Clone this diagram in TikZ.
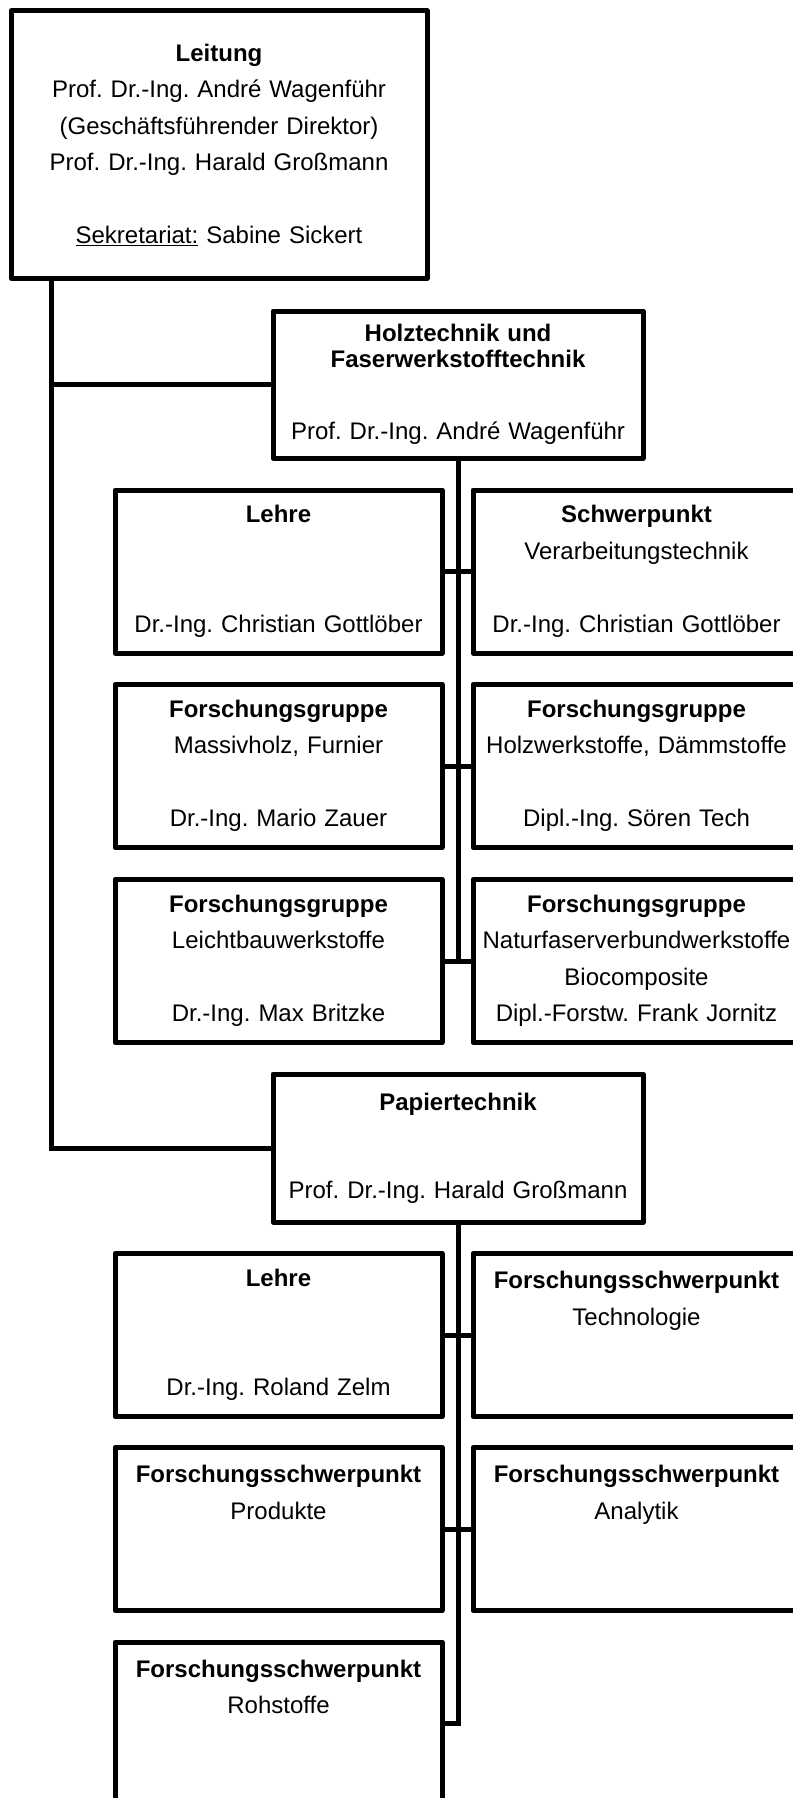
\documentclass[tikz,border=0pt]{standalone}
\usepackage{fontspec}
\setmainfont{Liberation Sans}
\usepackage{tikz}
\frenchspacing

\begin{document}
\begin{tikzpicture}[x=1pt, y=-1pt,
	unit/.style={draw, line width=5pt, line join=round, rectangle, inner sep=0pt, align=center,
		font=\fontsize{24}{36.5}\selectfont},
	sub/.style={unit, minimum width=327pt, minimum height=163pt, text width=327pt},
	dept/.style={unit, minimum width=370pt, minimum height=147pt, text width=370pt},
	link/.style={line width=5pt}]
	
	\useasboundingbox (0,0) rectangle (792,1798);
	
	% Leitung
	\node[unit, minimum width=416pt, minimum height=267pt, text width=416pt] (leitung) at (219,144.5)
		{\textbf{Leitung}\\Prof. Dr.-Ing. André Wagenführ\\(Geschäftsführender Direktor)\\Prof. Dr.-Ing. Harald Großmann\\[36pt]\underline{Sekretariat:} Sabine Sickert};
	
	% Holztechnik
	\node[dept] (holz) at (458,384.5)
		{\textbf{Holztechnik und}\\[-10.5pt]\textbf{Faserwerkstofftechnik}\\[35.5pt]Prof. Dr.-Ing. André Wagenführ};
	\node[sub] (lehreH) at (278.5,571.5) {\textbf{Lehre}\\[73pt]Dr.-Ing. Christian Gottlöber};
	\node[sub] (verarb) at (636.5,571.5) {\textbf{Schwerpunkt}\\Verarbeitungstechnik\\[36.5pt]Dr.-Ing. Christian Gottlöber};
	\node[sub] (massiv) at (278.5,766) {\textbf{Forschungsgruppe}\\Massivholz, Furnier\\[36.5pt]Dr.-Ing. Mario Zauer};
	\node[sub] (daemm) at (636.5,766) {\textbf{Forschungsgruppe}\\Holzwerkstoffe, Dämmstoffe\\[36.5pt]Dipl.-Ing. Sören Tech};
	\node[sub] (leicht) at (278.5,961) {\textbf{Forschungsgruppe}\\Leichtbauwerkstoffe\\[36.5pt]Dr.-Ing. Max Britzke};
	\node[sub] (natur) at (636.5,961) {\textbf{Forschungsgruppe}\\Naturfaserverbundwerkstoffe\\Biocomposite\\Dipl.-Forstw. Frank Jornitz};
	
	% Papiertechnik
	\node[dept, minimum height=148pt] (papier) at (458,1148)
		{\textbf{Papiertechnik}\\[51.5pt]Prof. Dr.-Ing. Harald Großmann};
	\node[sub] (lehreP) at (278.5,1335) {\textbf{Lehre}\\[73pt]Dr.-Ing. Roland Zelm};
	\node[sub] (techno) at (636.5,1335) {\textbf{Forschungsschwerpunkt}\\Technologie\\[36.5pt]\mbox{}};
	\node[sub] (produkt) at (278.5,1529) {\textbf{Forschungsschwerpunkt}\\Produkte\\[36.5pt]\mbox{}};
	\node[sub] (analyt) at (636.5,1529) {\textbf{Forschungsschwerpunkt}\\Analytik\\[36.5pt]\mbox{}};
	\node[sub] (roh) at (278.5,1723.5) {\textbf{Forschungsschwerpunkt}\\Rohstoffe\\[36.5pt]\mbox{}};
	
	% Links
	\draw[link] ([xshift=43pt]leitung.south west) |- (holz.west);
	\draw[link] ([xshift=43pt]leitung.south west) |- (papier.west);
	\draw[link] (holz.south) -- (holz.south |- natur.west);
	\draw[link] (lehreH.east) -- (verarb.west);
	\draw[link] (massiv.east) -- (daemm.west);
	\draw[link] (leicht.east) -- (natur.west);
	\draw[link] (papier.south) |- (roh.east);
	\draw[link] (lehreP.east) -- (techno.west);
	\draw[link] (produkt.east) -- (analyt.west);
	
\end{tikzpicture}
\end{document}
